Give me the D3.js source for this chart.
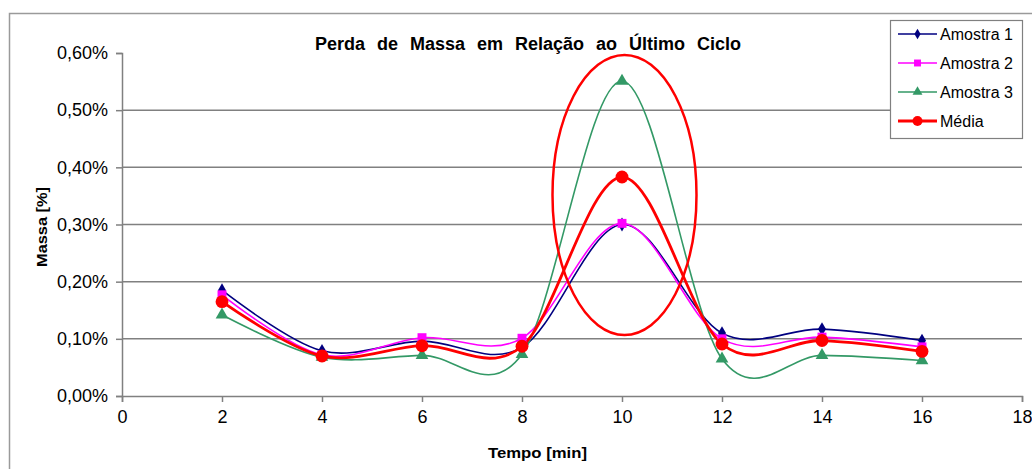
<!DOCTYPE html>
<html lang="pt">
<head>
<meta charset="utf-8">
<title>Perda de Massa</title>
<script src="https://cdn.jsdelivr.net/npm/d3@7/dist/d3.min.js"></script>
<style>
    body { margin: 0; background: #fff; }
    text { font-family: "Liberation Sans", Arial, sans-serif; fill: #000; }
    .title { font-size: 18px; font-weight: bold; word-spacing: 7px; }
    .axlabel { font-size: 15px; font-weight: bold; }
    .legend text { font-size: 16px; }
</style>
</head>
<body>
<div id="chart"></div>
<script>
    const W = 1032, H = 469;

    // data
    const tempos = [2, 4, 6, 8, 10, 12, 14, 16];
    const amostra1 = [0.185, 0.079, 0.096, 0.085, 0.300, 0.110, 0.117, 0.097];
    const amostra2 = [0.177, 0.072, 0.102, 0.101, 0.302, 0.100, 0.103, 0.086];
    const amostra3 = [0.142, 0.068, 0.071, 0.073, 0.551, 0.065, 0.071, 0.062];
    const media = [0.165, 0.070, 0.088, 0.087, 0.383, 0.091, 0.097, 0.078];
    const xTicks = [0, 2, 4, 6, 8, 10, 12, 14, 16, 18];
    const yTicks = [0, 0.1, 0.2, 0.3, 0.4, 0.5, 0.6];
    const names = ["Amostra 1", "Amostra 2", "Amostra 3", "Média"];

    const series = [
        {name: names[0], values: amostra1, color: "#000080", width: 1.6, symbol: d3.symbolDiamond, size: 55},
        {name: names[1], values: amostra2, color: "#ff00ff", width: 1.6, symbol: d3.symbolSquare, size: 80},
        {name: names[2], values: amostra3, color: "#339966", width: 1.6, symbol: d3.symbolTriangle, size: 70},
        {name: names[3], values: media, color: "#ff0000", width: 2.8, symbol: d3.symbolCircle, size: 130}
    ];

    const svg = d3.select("#chart").append("svg")
        .attr("width", W).attr("height", H);

    // chart area border
    svg.append("rect")
        .attr("x", 9.5).attr("y", 13.5)
        .attr("width", 1100).attr("height", 600)
        .attr("fill", "#fff").attr("stroke", "#9a9a9a").attr("stroke-width", 1.5);

    const x = d3.scaleLinear().domain([0, 18]).range([122, 1022]);
    const y = d3.scaleLinear().domain([0, 0.6]).range([396, 53]);

    // gridlines
    svg.append("g")
        .selectAll("line")
        .data(yTicks.filter(d => d > 0 && d < 0.6))
        .join("line")
        .attr("x1", x(0)).attr("x2", x(18))
        .attr("y1", d => y(d)).attr("y2", d => y(d))
        .attr("stroke", "#808080").attr("stroke-width", 1.5);

    // axes
    const yAxis = svg.append("g")
        .attr("transform", `translate(${x(0)},0)`)
        .call(d3.axisLeft(y).tickValues(yTicks).tickSize(6).tickPadding(8)
            .tickFormat(d => d.toFixed(2).replace(".", ",") + "%"));
    const xAxis = svg.append("g")
        .attr("transform", `translate(0,${y(0)})`)
        .call(d3.axisBottom(x).tickValues(xTicks).tickSize(6).tickPadding(8));
    [xAxis, yAxis].forEach(a => {
        a.select(".domain").attr("stroke", "#808080").attr("stroke-width", 1.5);
        a.selectAll(".tick line").attr("stroke", "#808080").attr("stroke-width", 1.5);
        a.selectAll(".tick text").attr("fill", "#000").style("font-size", "18px");
    });

    // lines
    const line = d3.line()
        .x((d, i) => x(tempos[i]))
        .y(d => y(d))
        .curve(d3.curveCardinal.tension(0));

    series.forEach(s => {
        svg.append("path")
            .attr("d", line(s.values))
            .attr("fill", "none")
            .attr("stroke", s.color)
            .attr("stroke-width", s.width);
    });
    series.forEach(s => {
        svg.append("g")
            .selectAll("path")
            .data(s.values)
            .join("path")
            .attr("transform", (d, i) => `translate(${x(tempos[i])},${y(d)})`)
            .attr("d", d3.symbol().type(s.symbol).size(s.size))
            .attr("fill", s.color);
    });

    // highlight ellipse
    svg.append("ellipse")
        .attr("cx", x(10.05)).attr("cy", 195)
        .attr("rx", 72).attr("ry", 140)
        .attr("fill", "none").attr("stroke", "#ff0000").attr("stroke-width", 2.5);

    // title and axis labels
    svg.append("text").attr("class", "title")
        .attr("x", 528).attr("y", 50).attr("text-anchor", "middle")
        .text("Perda de Massa em Relação ao Último Ciclo");
    svg.append("text").attr("class", "axlabel")
        .attr("transform", "translate(47,267) rotate(-90)")
        .attr("textLength", 80).attr("lengthAdjust", "spacingAndGlyphs")
        .text("Massa [%]");
    svg.append("text").attr("class", "axlabel")
        .attr("x", 488).attr("y", 458)
        .attr("textLength", 99).attr("lengthAdjust", "spacingAndGlyphs")
        .text("Tempo [min]");

    // legend
    const legend = svg.append("g").attr("class", "legend");
    legend.append("rect")
        .attr("x", 890.5).attr("y", 20.5).attr("width", 132).attr("height", 118)
        .attr("fill", "#fff").attr("stroke", "#808080").attr("stroke-width", 1.2);
    series.forEach((s, i) => {
        const ly = 34 + i * 29;
        legend.append("line")
            .attr("x1", 898).attr("x2", 937).attr("y1", ly).attr("y2", ly)
            .attr("stroke", s.color).attr("stroke-width", s.width);
        legend.append("path")
            .attr("transform", `translate(917.5,${ly})`)
            .attr("d", d3.symbol().type(s.symbol).size(s.size * 0.6))
            .attr("fill", s.color);
        legend.append("text")
            .attr("x", 940).attr("y", ly + 6)
            .text(s.name);
    });
</script>
</body>
</html>
